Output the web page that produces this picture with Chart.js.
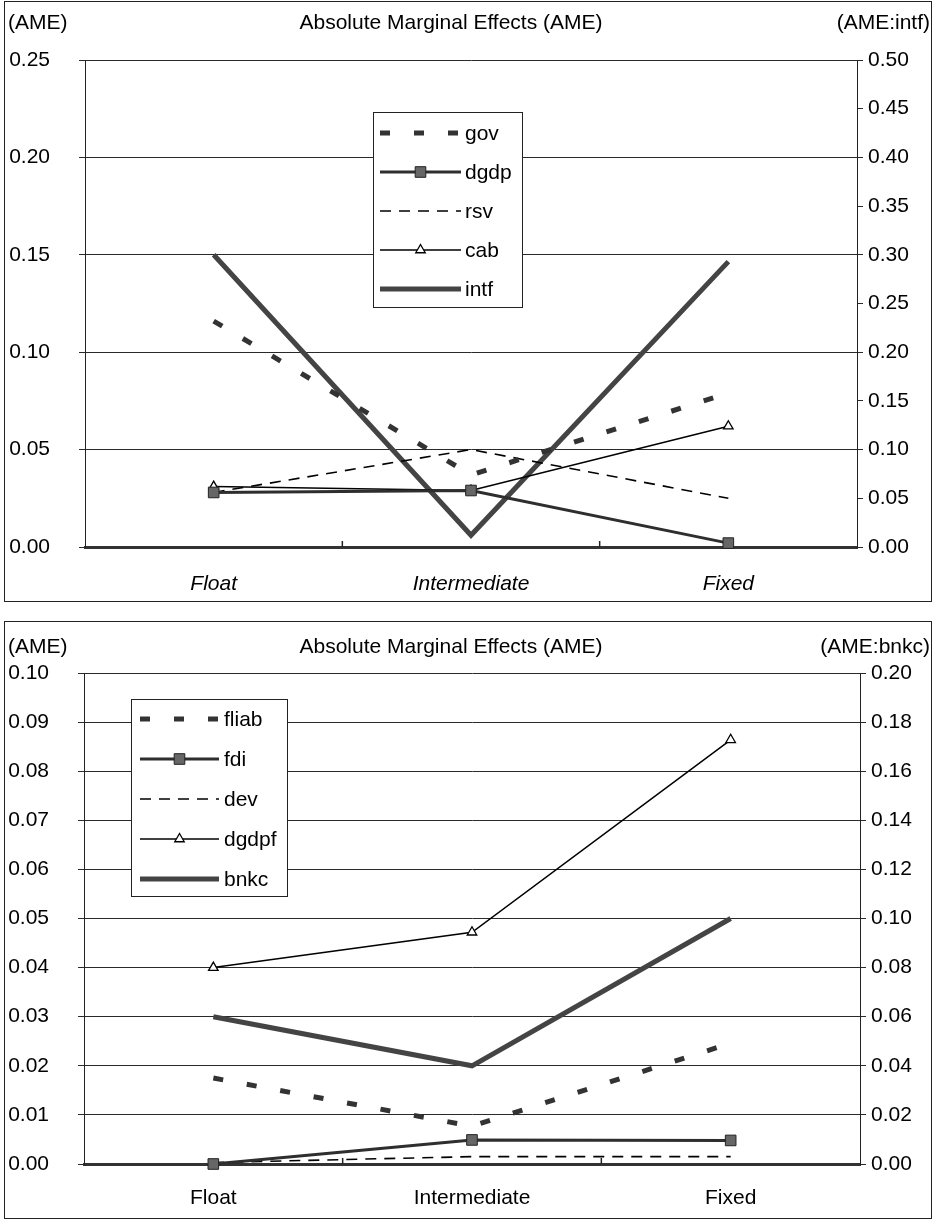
<!DOCTYPE html>
<html lang="en">
<head>
<meta charset="UTF-8">
<title>Absolute Marginal Effects (AME)</title>
<script src="https://cdn.jsdelivr.net/npm/chart.js"></script>
<style>
  body { margin: 0; background: #fff; }
  .panel { position: absolute; left: 4px; width: 926px; border: 1px solid #222; background: #fff; }
  #top { top: 1px; height: 599px; }
  #bottom { top: 621px; height: 596px; }
  canvas { display: block; }
</style>
</head>
<body>
<div class="panel" id="top"><canvas id="topChart" width="926" height="599"></canvas></div>
<div class="panel" id="bottom"><canvas id="bottomChart" width="926" height="596"></canvas></div>
<script>
const regimes = ['Float', 'Intermediate', 'Fixed'];

// upper panel (left axis 0-0.25, intf on right axis 0-0.50)
const gov  = [0.116, 0.037, 0.079];
const dgdp = [0.028, 0.029, 0.002];
const rsv  = [0.028, 0.050, 0.025];
const cab  = [0.031, 0.029, 0.062];
const intf = [0.300, 0.012, 0.293];

// lower panel (left axis 0-0.10, bnkc on right axis 0-0.20)
const fliab = [0.0175, 0.0077, 0.0246];
const fdi   = [0.0000, 0.0049, 0.0048];
const dev   = [0.0003, 0.0015, 0.0015];
const dgdpf = [0.0400, 0.0472, 0.0864];
const bnkc  = [0.060, 0.040, 0.100];

const FONT = '"Liberation Sans", Arial, sans-serif';

const styles = {
  thickDash: { borderColor: '#333', borderWidth: 5, borderDash: [10, 24], pointRadius: 0 },
  squares:   { borderColor: '#2e2e2e', borderWidth: 3, pointStyle: 'rect', pointRadius: 7.5,
               pointBackgroundColor: '#666', pointBorderColor: '#222', pointBorderWidth: 1 },
  thinDash:  { borderColor: '#000', borderWidth: 1.6, borderDash: [11, 8], pointRadius: 0 },
  triangles: { borderColor: '#000', borderWidth: 1.5, pointStyle: 'triangle', pointRadius: 5.5,
               pointBackgroundColor: '#fff', pointBorderColor: '#000', pointBorderWidth: 1.3 },
  thick:     { borderColor: '#444', borderWidth: 5, pointRadius: 0 }
};

function marker(ctx, style, r, x, y) {
  ctx.beginPath();
  if (style === 'rect') {
    const s = r * Math.SQRT1_2;
    ctx.rect(x - s, y - s, 2 * s, 2 * s);
  } else {
    const h = r * 1.5;
    ctx.moveTo(x, y - r);
    ctx.lineTo(x + r * 0.866, y + h - r);
    ctx.lineTo(x - r * 0.866, y + h - r);
    ctx.closePath();
  }
  ctx.fill();
  ctx.stroke();
}

// legend box drawn inside the plot
const boxLegend = {
  id: 'boxLegend',
  afterDraw(chart, args, o) {
    const ctx = chart.ctx;
    ctx.save();
    ctx.fillStyle = '#fff';
    ctx.fillRect(o.x, o.y, o.w, o.h);
    ctx.strokeStyle = '#222';
    ctx.lineWidth = 1;
    ctx.strokeRect(o.x + 0.5, o.y + 0.5, o.w, o.h);
    chart.data.datasets.forEach((ds, i) => {
      const y = o.y + o.first + i * o.row;
      const x0 = o.x + o.lineStart, x1 = o.x + o.lineEnd;
      ctx.beginPath();
      ctx.setLineDash(ds.borderDash || []);
      ctx.lineWidth = ds.borderWidth;
      ctx.strokeStyle = ds.borderColor;
      ctx.moveTo(x0, y);
      ctx.lineTo(x1, y);
      ctx.stroke();
      ctx.setLineDash([]);
      if (ds.pointRadius > 0) {
        ctx.fillStyle = ds.pointBackgroundColor;
        ctx.strokeStyle = ds.pointBorderColor;
        ctx.lineWidth = ds.pointBorderWidth;
        marker(ctx, ds.pointStyle, ds.pointRadius, (x0 + x1) / 2, y);
      }
      ctx.fillStyle = '#000';
      ctx.font = '21px ' + FONT;
      ctx.textAlign = 'left';
      ctx.textBaseline = 'middle';
      ctx.fillText(ds.label, o.x + o.textX, y + 1);
    });
    ctx.restore();
  }
};

// header texts and the small inward ticks between categories
const frameText = {
  id: 'frameText',
  afterDraw(chart, args, o) {
    const ctx = chart.ctx;
    ctx.save();
    ctx.fillStyle = '#000';
    ctx.font = '21px ' + FONT;
    ctx.textBaseline = 'middle';
    ctx.textAlign = 'left';
    ctx.fillText(o.left, 3, o.y);
    ctx.textAlign = 'center';
    ctx.fillText(o.title, o.titleX, o.y);
    ctx.textAlign = 'right';
    ctx.fillText(o.right, chart.width - 1, o.y);

    const xs = chart.scales.x;
    const bottom = chart.chartArea.bottom;
    ctx.strokeStyle = '#222';
    ctx.lineWidth = 1.5;
    for (let i = 1; i < xs.ticks.length; i++) {
      const px = (xs.getPixelForTick(i - 1) + xs.getPixelForTick(i)) / 2;
      ctx.beginPath();
      ctx.moveTo(px, bottom);
      ctx.lineTo(px, bottom - 6);
      ctx.stroke();
    }
    ctx.restore();
  }
};

function makeChart(id, cfg) {
  const datasets = cfg.series.map(s => Object.assign({
    label: s.label,
    data: s.data,
    yAxisID: s.right ? 'y1' : 'y',
    tension: 0,
    fill: false,
    clip: false
  }, styles[s.style]));

  const tickFont = { family: FONT, size: 21 };

  return new Chart(document.getElementById(id), {
    type: 'line',
    data: { labels: regimes, datasets: datasets },
    options: {
      responsive: false,
      animation: false,
      layout: { padding: { top: cfg.area.top, left: 0, right: 0, bottom: 0 } },
      scales: {
        x: {
          offset: true,
          grid: { display: false, drawTicks: false },
          border: { color: '#333', width: 3 },
          ticks: {
            color: '#000', padding: cfg.xPad, maxRotation: 0,
            font: { family: FONT, size: 21, style: cfg.italic ? 'italic' : 'normal' }
          },
          afterFit: s => { s.height = cfg.area.xHeight; }
        },
        y: {
          position: 'left',
          min: 0, max: cfg.leftMax,
          ticks: { stepSize: cfg.leftStep, color: '#000', padding: 29, font: tickFont,
                   callback: v => v.toFixed(2) },
          grid: { color: '#2a2a2a', lineWidth: 1, tickLength: 6 },
          border: { color: '#222', width: 1 },
          afterFit: s => { s.width = cfg.area.left; }
        },
        y1: {
          position: 'right',
          min: 0, max: cfg.rightMax,
          ticks: { stepSize: cfg.rightStep, color: '#000', padding: 5, font: tickFont,
                   callback: v => v.toFixed(2) },
          grid: { drawOnChartArea: false, color: '#2a2a2a', tickLength: 6 },
          border: { color: '#222', width: 1 },
          afterFit: s => { s.width = cfg.area.right; }
        }
      },
      plugins: {
        legend: { display: false },
        tooltip: { enabled: false },
        boxLegend: cfg.legend,
        frameText: cfg.header
      }
    },
    plugins: [frameText, boxLegend]
  });
}

makeChart('topChart', {
  series: [
    { label: 'gov',  data: gov,  style: 'thickDash' },
    { label: 'dgdp', data: dgdp, style: 'squares' },
    { label: 'rsv',  data: rsv,  style: 'thinDash' },
    { label: 'cab',  data: cab,  style: 'triangles' },
    { label: 'intf', data: intf, style: 'thick', right: true }
  ],
  leftMax: 0.25, leftStep: 0.05,
  rightMax: 0.5, rightStep: 0.05,
  italic: true,
  xPad: 25,
  area: { top: 58, left: 80, right: 74, xHeight: 54 },
  legend: { x: 368, y: 110, w: 149, h: 195, first: 21, row: 39, lineStart: 7, lineEnd: 88, textX: 92 },
  header: { y: 21, left: '(AME)', title: 'Absolute Marginal Effects (AME)', titleX: 446, right: '(AME:intf)' }
});

makeChart('bottomChart', {
  series: [
    { label: 'fliab', data: fliab, style: 'thickDash' },
    { label: 'fdi',   data: fdi,   style: 'squares' },
    { label: 'dev',   data: dev,   style: 'thinDash' },
    { label: 'dgdpf', data: dgdpf, style: 'triangles' },
    { label: 'bnkc',  data: bnkc,  style: 'thick', right: true }
  ],
  leftMax: 0.10, leftStep: 0.01,
  rightMax: 0.20, rightStep: 0.02,
  italic: false,
  xPad: 22,
  area: { top: 51, left: 79, right: 71, xHeight: 54 },
  legend: { x: 126, y: 77, w: 156, h: 197, first: 20, row: 40, lineStart: 9, lineEnd: 88, textX: 93 },
  header: { y: 25, left: '(AME)', title: 'Absolute Marginal Effects (AME)', titleX: 446, right: '(AME:bnkc)' }
});
</script>
</body>
</html>
